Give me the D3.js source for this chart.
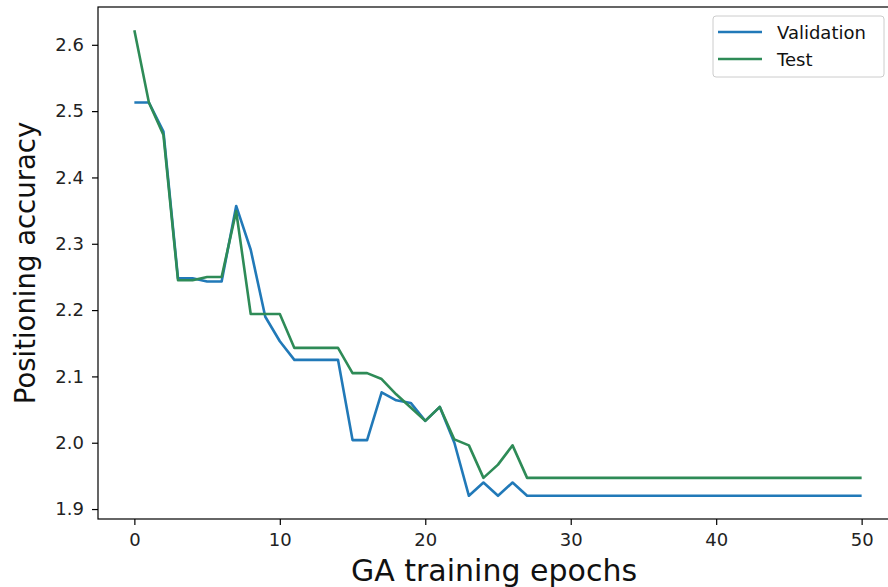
<!DOCTYPE html>
<html>
<head>
<meta charset="utf-8">
<script src="https://cdn.jsdelivr.net/npm/d3@7"></script>
<style>
  body { margin: 0; background: #fff; }
  svg { display: block; font-family: "DejaVu Sans", sans-serif; }
</style>
</head>
<body>
<figure id="line" style="margin:0"></figure>
<script>
// values, one per epoch (0..50)
const validation = [
  2.513, 2.513, 2.469, 2.248, 2.248, 2.243, 2.243, 2.357, 2.291, 2.190,
  2.153, 2.125, 2.125, 2.125, 2.125, 2.004, 2.004, 2.076, 2.064, 2.060,
  2.033, 2.054, 2.000, 1.920, 1.940, 1.920, 1.940, 1.920, 1.920, 1.920,
  1.920, 1.920, 1.920, 1.920, 1.920, 1.920, 1.920, 1.920, 1.920, 1.920,
  1.920, 1.920, 1.920, 1.920, 1.920, 1.920, 1.920, 1.920, 1.920, 1.920,
  1.920
];
const test = [
  2.622, 2.513, 2.464, 2.245, 2.245, 2.250, 2.250, 2.349, 2.194, 2.194,
  2.194, 2.143, 2.143, 2.143, 2.143, 2.105, 2.105, 2.096, 2.073, 2.053,
  2.033, 2.054, 2.005, 1.996, 1.947, 1.967, 1.996, 1.947, 1.947, 1.947,
  1.947, 1.947, 1.947, 1.947, 1.947, 1.947, 1.947, 1.947, 1.947, 1.947,
  1.947, 1.947, 1.947, 1.947, 1.947, 1.947, 1.947, 1.947, 1.947, 1.947,
  1.947
];
const epochs = validation.map((d, i) => i);
const xTicks = [0, 10, 20, 30, 40, 50];
const yTicks = [1.9, 2.0, 2.1, 2.2, 2.3, 2.4, 2.5, 2.6];
const seriesNames = ["Validation", "Test"];
const seriesColors = ["#2179b8", "#2e8b57"];

const width = 888, height = 587;
const plotLeft = 98, plotRight = 898, plotTop = 7, plotBottom = 519;

const svg = d3.select("figure#line")
  .append("svg")
  .attr("width", width)
  .attr("height", height);

const x = d3.scaleLinear().domain([-2.5, 52.5]).range([plotLeft, plotRight]);
const y = d3.scaleLinear().domain([1.885, 2.657]).range([plotBottom, plotTop]);

// axes
const xAxis = svg.append("g")
  .attr("transform", "translate(0," + plotBottom + ")")
  .call(d3.axisBottom(x).tickValues(xTicks).tickSize(6).tickPadding(8).tickFormat(d3.format("d")));
const yAxis = svg.append("g")
  .attr("transform", "translate(" + plotLeft + ",0)")
  .call(d3.axisLeft(y).tickValues(yTicks).tickSize(6).tickPadding(8).tickFormat(d3.format(".1f")));

[xAxis, yAxis].forEach(g => {
  g.select(".domain").remove();
  g.selectAll("line").attr("stroke", "#000").attr("stroke-width", 1.2);
  g.selectAll("text").attr("fill", "#222").style("font-size", "18px")
    .style("font-family", "DejaVu Sans");
});

// lines
const line = d3.line()
  .x((d, i) => x(epochs[i]))
  .y(d => y(d));

[validation, test].forEach((vals, k) => {
  svg.append("path")
    .datum(vals)
    .attr("fill", "none")
    .attr("stroke", seriesColors[k])
    .attr("stroke-width", 2.6)
    .attr("stroke-linejoin", "round")
    .attr("d", line);
});

// frame
svg.append("rect")
  .attr("x", plotLeft).attr("y", plotTop)
  .attr("width", plotRight - plotLeft).attr("height", plotBottom - plotTop)
  .attr("fill", "none")
  .attr("stroke", "#000")
  .attr("stroke-width", 1.2);

// axis labels
svg.append("text")
  .attr("x", (plotLeft + plotRight) / 2 - 4)
  .attr("y", 581)
  .attr("text-anchor", "middle")
  .style("font-size", "30px")
  .attr("fill", "#111")
  .text("GA training epochs");

svg.append("text")
  .attr("transform", "translate(35," + (plotTop + plotBottom) / 2 + ") rotate(-90)")
  .attr("text-anchor", "middle")
  .style("font-size", "27.5px")
  .attr("fill", "#111")
  .text("Positioning accuracy");

// legend
const legend = svg.append("g");
legend.append("rect")
  .attr("x", 713).attr("y", 16)
  .attr("width", 171).attr("height", 61)
  .attr("rx", 3)
  .attr("fill", "#fff")
  .attr("fill-opacity", 0.8)
  .attr("stroke", "#ccc")
  .attr("stroke-width", 1);

seriesNames.forEach((name, k) => {
  const ly = 32 + k * 27;
  legend.append("line")
    .attr("x1", 718).attr("x2", 762)
    .attr("y1", ly).attr("y2", ly)
    .attr("stroke", seriesColors[k])
    .attr("stroke-width", 2.6);
  legend.append("text")
    .attr("x", 777).attr("y", ly + 6.5)
    .style("font-size", "18px")
    .attr("fill", "#111")
    .text(name);
});
</script>
</body>
</html>
